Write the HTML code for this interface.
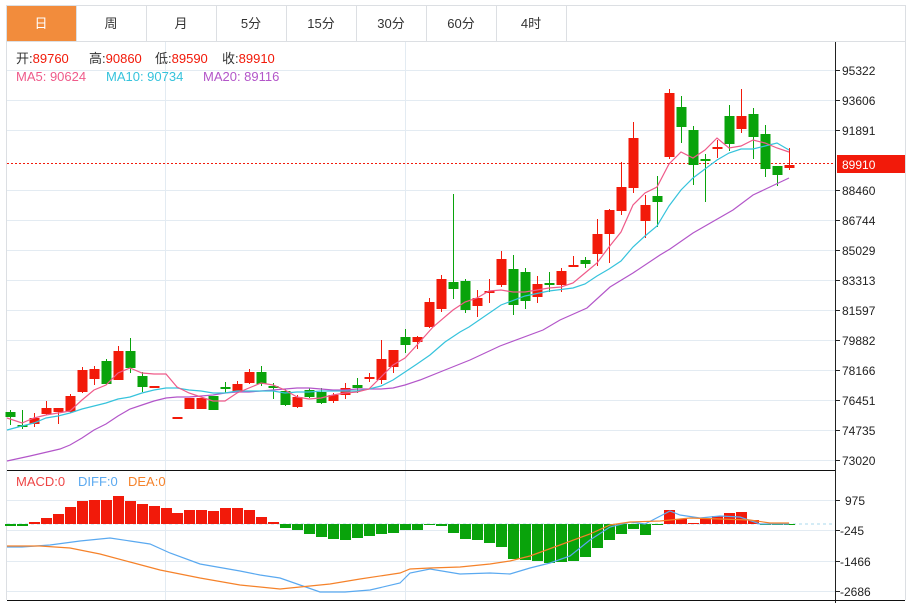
<!DOCTYPE html>
<html><head><meta charset="utf-8"><style>
html,body{margin:0;padding:0;background:#fff;}
body{width:911px;height:603px;overflow:hidden;font-family:"Liberation Sans","Noto Sans CJK SC",sans-serif;}
</style></head><body>
<svg width="911" height="603" xmlns="http://www.w3.org/2000/svg" font-family="Liberation Sans, Noto Sans CJK SC, sans-serif">
<rect width="911" height="603" fill="#fff"/>
<rect x="6.5" y="5.5" width="899" height="36" fill="#fff" stroke="#dcdfe3"/>
<rect x="7" y="6" width="69" height="35" fill="#f28c3c"/>
<g stroke="#dcdfe3"><line x1="76.5" y1="6" x2="76.5" y2="41"/><line x1="146.5" y1="6" x2="146.5" y2="41"/><line x1="216.5" y1="6" x2="216.5" y2="41"/><line x1="286.5" y1="6" x2="286.5" y2="41"/><line x1="356.5" y1="6" x2="356.5" y2="41"/><line x1="426.5" y1="6" x2="426.5" y2="41"/><line x1="496.5" y1="6" x2="496.5" y2="41"/><line x1="566.5" y1="6" x2="566.5" y2="41"/></g>
<g font-size="13" text-anchor="middle" fill="#333"><text x="41" y="28" fill="#fff">日</text><text x="111" y="28">周</text><text x="181" y="28">月</text><text x="251" y="28">5分</text><text x="321" y="28">15分</text><text x="391" y="28">30分</text><text x="461" y="28">60分</text><text x="531" y="28">4时</text></g>
<line x1="6.5" y1="42" x2="6.5" y2="600" stroke="#dcdfe3"/>
<line x1="905.5" y1="42" x2="905.5" y2="600" stroke="#dcdfe3"/>
<g stroke="#e3ebf2"><line x1="7" y1="70.5" x2="835" y2="70.5"/><line x1="7" y1="100.5" x2="835" y2="100.5"/><line x1="7" y1="130.5" x2="835" y2="130.5"/><line x1="7" y1="190.5" x2="835" y2="190.5"/><line x1="7" y1="220.5" x2="835" y2="220.5"/><line x1="7" y1="250.5" x2="835" y2="250.5"/><line x1="7" y1="280.5" x2="835" y2="280.5"/><line x1="7" y1="310.5" x2="835" y2="310.5"/><line x1="7" y1="340.5" x2="835" y2="340.5"/><line x1="7" y1="370.5" x2="835" y2="370.5"/><line x1="7" y1="400.5" x2="835" y2="400.5"/><line x1="7" y1="430.5" x2="835" y2="430.5"/><line x1="7" y1="460.5" x2="835" y2="460.5"/>
<line x1="165.5" y1="42" x2="165.5" y2="600"/><line x1="405.5" y1="42" x2="405.5" y2="600"/>
<line x1="7" y1="500.5" x2="835" y2="500.5"/><line x1="7" y1="530.5" x2="835" y2="530.5"/><line x1="7" y1="561.5" x2="835" y2="561.5"/><line x1="7" y1="591.5" x2="835" y2="591.5"/></g>
<line x1="835.5" y1="42" x2="835.5" y2="603" stroke="#222"/>
<line x1="7" y1="470.5" x2="835" y2="470.5" stroke="#111"/>
<line x1="7" y1="600.5" x2="905" y2="600.5" stroke="#111"/>
<g stroke="#222"><line x1="835" y1="70.5" x2="840" y2="70.5"/><line x1="835" y1="100.5" x2="840" y2="100.5"/><line x1="835" y1="130.5" x2="840" y2="130.5"/><line x1="835" y1="190.5" x2="840" y2="190.5"/><line x1="835" y1="220.5" x2="840" y2="220.5"/><line x1="835" y1="250.5" x2="840" y2="250.5"/><line x1="835" y1="280.5" x2="840" y2="280.5"/><line x1="835" y1="310.5" x2="840" y2="310.5"/><line x1="835" y1="340.5" x2="840" y2="340.5"/><line x1="835" y1="370.5" x2="840" y2="370.5"/><line x1="835" y1="400.5" x2="840" y2="400.5"/><line x1="835" y1="430.5" x2="840" y2="430.5"/><line x1="835" y1="460.5" x2="840" y2="460.5"/><line x1="835" y1="500.5" x2="840" y2="500.5"/><line x1="835" y1="530.5" x2="840" y2="530.5"/><line x1="835" y1="561.5" x2="840" y2="561.5"/><line x1="835" y1="591.5" x2="840" y2="591.5"/></g>
<g font-size="12" fill="#222"><text x="842" y="75">95322</text><text x="842" y="105">93606</text><text x="842" y="135">91891</text><text x="842" y="195">88460</text><text x="842" y="225">86744</text><text x="842" y="255">85029</text><text x="842" y="285">83313</text><text x="842" y="315">81597</text><text x="842" y="345">79882</text><text x="842" y="375">78166</text><text x="842" y="405">76451</text><text x="842" y="435">74735</text><text x="842" y="465">73020</text>
<text x="845" y="505">975</text><text x="840" y="535">-245</text><text x="840" y="566">-1466</text><text x="840" y="596">-2686</text></g>
<line x1="7" y1="163.5" x2="835" y2="163.5" stroke="#f21a0a" stroke-dasharray="2,2"/>
<rect x="837" y="155" width="68" height="18" fill="#f21a0a"/>
<text x="842" y="169" font-size="12" fill="#fff">89910</text>
<g font-size="13">
<text x="16" y="63" fill="#333">开:<tspan fill="#f21a0a">89760</tspan></text>
<text x="89" y="63" fill="#333">高:<tspan fill="#f21a0a">90860</tspan></text>
<text x="155" y="63" fill="#333">低:<tspan fill="#f21a0a">89590</tspan></text>
<text x="222" y="63" fill="#333">收:<tspan fill="#f21a0a">89910</tspan></text>
<text x="16" y="81" fill="#ef5b8a">MA5: 90624</text><text x="106" y="81" fill="#36c3dc">MA10: 90734</text><text x="203" y="81" fill="#b356c9">MA20: 89116</text>
<text x="16" y="486" fill="#ee4545">MACD:0</text><text x="78" y="486" fill="#5aa9f0">DIFF:0</text><text x="128" y="486" fill="#f5822a">DEA:0</text></g>
<g id="c"></g>
<polyline fill="none" stroke="#b356c9" stroke-width="1.2" points="7,461 30,456 60,449 70,445 82,438 94,430 106,424 118,416 130,409 142,405 154,401 166,398 177,397 189,397 201,396 213,395 225,393 237,392 249,392 261,391 273,390 285,389 297,388 309,388 321,389 333,390 345,390 357,389 369,389 381,389 393,388 405,385 420,380 445,370 470,360 500,346 543,330 560,320 587,308 610,287 633,273 660,255 670,249 693,233 733,210 753,195 789,178"/>
<polyline fill="none" stroke="#36c3dc" stroke-width="1.2" points="7,430 22,426 34,423 46,418 58,416 70,413 82,409 94,406 106,403 118,399 130,397 142,393 154,390 166,388 177,388 189,390 201,391 213,393 225,393 237,391 249,391 261,391 273,391 285,393 297,392 309,392 321,391 333,391 345,391 357,391 369,389 381,386 393,380 405,372 417,364 430,355 445,342 460,332 469,327 501,305 525,296 549,291 573,288 585,284 597,276 609,269 621,261 633,247 645,236 657,226 669,206 681,190 693,178 705,169 717,160 729,153 741,149 753,149 765,146 777,143 789,150"/>
<polyline fill="none" stroke="#ef5b8a" stroke-width="1.2" points="7,418 22,423 34,418 46,415 58,413 70,411 82,400 94,390 106,385 118,373 130,368 142,373 154,374 166,374 177,387 189,393 201,397 213,401 225,401 237,393 249,388 261,383 273,385 285,390 297,397 309,399 321,398 333,395 345,393 357,392 369,389 381,377 393,365 405,358 417,345 433,327 453,310 465,302 477,298 489,291 501,290 513,292 525,292 537,290 549,288 561,287 573,283 585,273 597,263 609,247 621,232 633,205 645,193 657,187 669,164 681,152 693,158 705,150 717,138 729,148 741,146 753,140 765,143 777,148 789,152"/>
<line x1="7" y1="524" x2="835" y2="524" stroke="#a8d8ee" stroke-dasharray="3,3"/>
<g id="m"></g>
<polyline fill="none" stroke="#5aa9f0" stroke-width="1.2" points="7,547 22,547 50,545 80,541 110,538 130,541 150,544 170,553 200,564 240,571 260,575 280,578 300,585 320,592 345,592 370,590 400,583 410,573 430,569 460,574 490,573 510,574 530,568 550,563 570,556 590,540 610,527 630,522 645,524 670,511 680,515 700,518 720,516 740,517 760,524 789,524"/>
<polyline fill="none" stroke="#f5822a" stroke-width="1.2" points="7,546 40,546 70,548 100,554 130,562 160,570 200,578 240,585 280,589 300,587 330,584 360,579 400,573 410,569 430,568 460,567 490,564 510,561 530,556 560,545 590,534 610,525 630,522 660,521 690,518 720,519 750,520 770,523 789,523"/>
</svg>
<script>
var R="#f21a0a",G="#09a30b",NS="http://www.w3.org/2000/svg";
var C=[[10,412,417,410,425,G],[22,425,427,410,429,G],[34,418,424,413,427,R],[46,408,414,401,415,R],[58,408,412,408,424,R],[70,396,412,394,413,R],[82,370,392,367,393,R],[94,369,379,366,385,R],[106,361,384,359,385,G],[118,351,380,346,380,R],[130,351,368,338,373,G],[142,376,387,372,392,G],[154,386,387,386,387,R],[177,417,418,417,418,R],[189,398,409,398,409,R],[201,398,409,398,409,R],[213,396,410,396,410,G],[225,387,389,382,393,G],[237,384,392,381,393,R],[249,372,383,369,384,R],[261,372,384,366,386,G],[273,386,388,383,399,G],[285,391,405,389,406,G],[297,397,407,395,408,R],[309,390,397,388,398,G],[321,392,403,388,404,G],[333,395,401,393,403,R],[345,388,395,383,399,R],[357,385,388,378,393,G],[369,377,378,373,382,R],[381,359,380,340,384,R],[393,350,367,350,373,R],[405,337,345,329,353,G],[417,337,342,336,349,R],
[429,302,327,298,328,R],[441,279,309,275,312,R],[453,282,289,194,299,G],[465,281,310,279,313,G],[477,298,306,290,317,R],[489,291,293,279,303,R],[501,259,285,251,287,R],[513,269,305,255,315,G],[525,272,301,268,309,G],[537,284,297,276,303,R],[549,283,285,272,292,G],[561,271,285,268,292,R],[573,265,267,256,267,R],[585,260,264,257,268,G],[597,234,254,219,266,R],[609,210,234,209,263,R],[621,187,211,162,215,R],[633,138,188,122,193,R],[645,205,221,195,238,R],[657,196,202,176,227,G],[669,93,157,89,159,R],[681,107,127,96,143,G],[693,130,165,126,185,G],[705,159,161,154,202,G],[717,147,148,140,158,R],[729,116,144,105,151,G],[741,116,129,89,133,R],[753,114,137,108,159,G],[765,134,169,125,177,G],[777,166,175,166,186,G],[789,165,168,148,170,R]];
var g=document.getElementById("c");
function el(t,a,p){var e=document.createElementNS(NS,t);for(var k in a)e.setAttribute(k,a[k]);p.appendChild(e);}
C.forEach(function(c){el("rect",{x:c[0],y:c[3],width:1,height:Math.max(1,c[4]-c[3]),fill:c[5]},g);el("rect",{x:c[0]-4.5,y:c[1],width:10,height:Math.max(2,c[2]-c[1]),fill:c[5]},g);});
var M=[[10,526],[22,526],[34,522],[46,518],[58,514],[70,507],[82,501],[94,500],[106,500],[118,496],[130,501],[142,504],[154,506],[166,508],[177,513],[189,510],[201,510],[213,511],[225,508],[237,508],[249,510],[261,517],[273,522],[285,528],[297,530],[309,534],[321,537],[333,539],[345,540],[357,538],[369,536],[381,534],[393,533],[405,530],[417,530],[429,525],[441,526],[453,533],[465,539],[477,540],[489,543],[501,547],[513,559],[525,560],[537,561],[549,563],[561,562],[573,561],[585,557],[597,548],[609,540],[621,534],[633,529],[645,535],[657,525],[669,510],[681,519],[693,523],[705,519],[717,516],[729,513],[741,512],[753,520],[765,525],[777,525],[789,525]];
var m=document.getElementById("m");
M.forEach(function(b){var z=524,y=b[1];if(y<z)el("rect",{x:b[0]-5,y:y,width:11,height:z-y,fill:R},m);else el("rect",{x:b[0]-5,y:z,width:11,height:Math.max(1,y-z),fill:G},m);});
</script>
</body></html>
